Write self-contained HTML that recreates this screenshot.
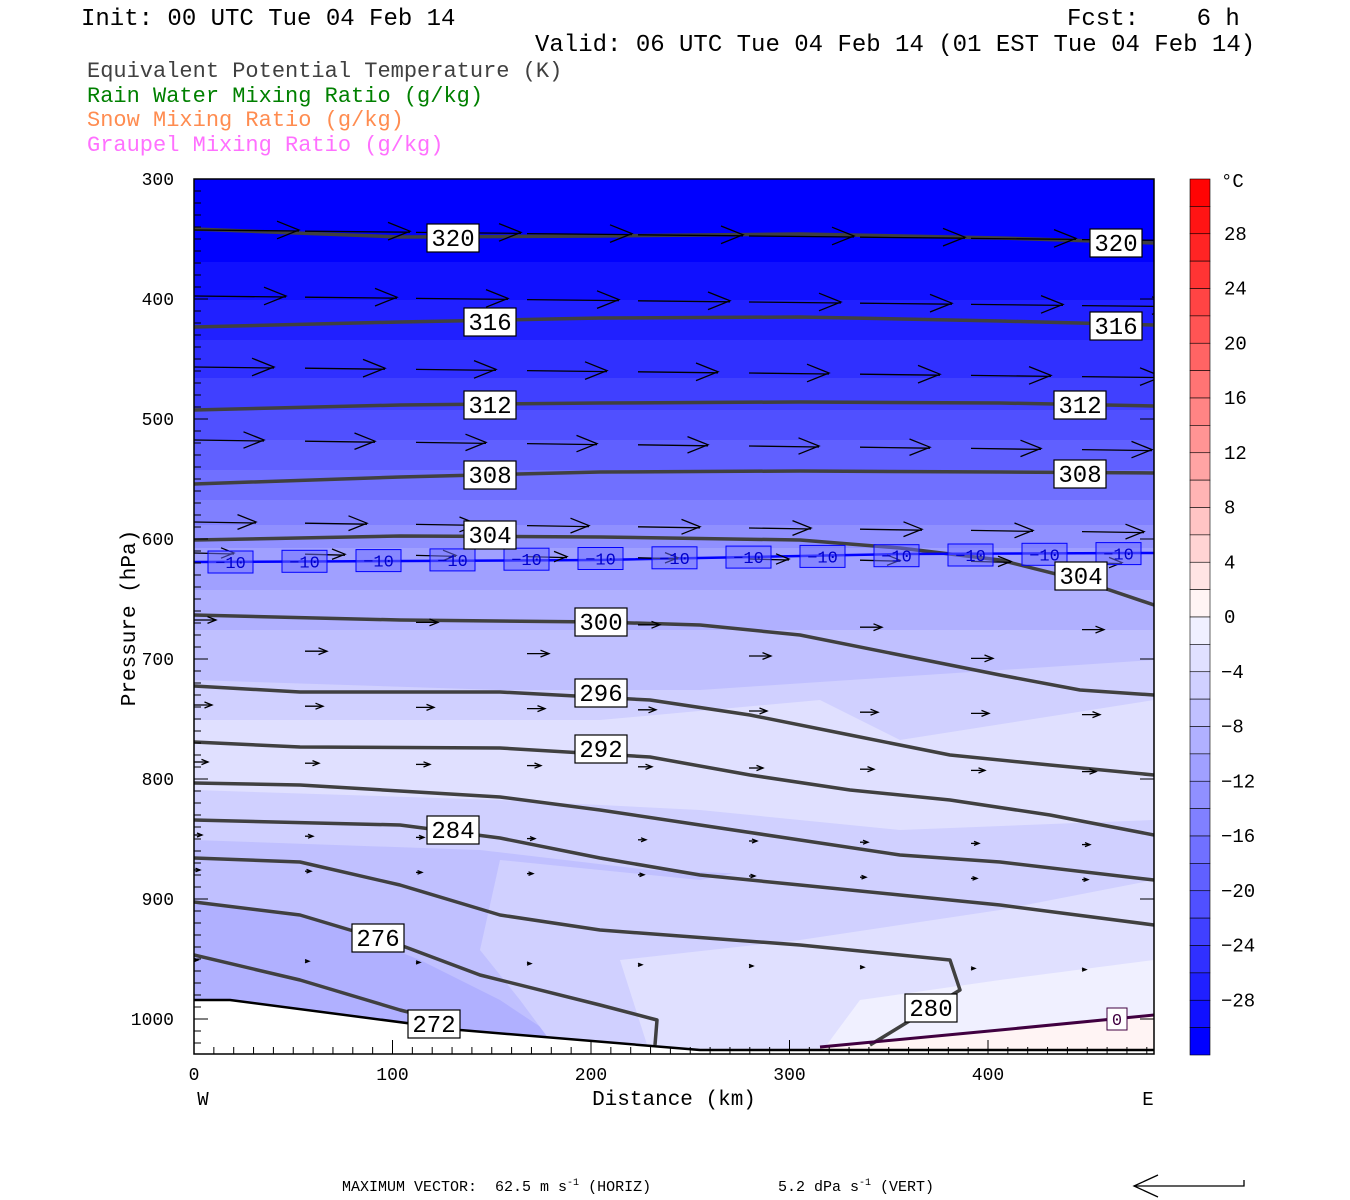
<!DOCTYPE html>
<html><head><meta charset="utf-8"><style>
html,body{margin:0;background:#fff;width:1350px;height:1200px;overflow:hidden}
svg{display:block;overflow:hidden}
text{font-family:"Liberation Mono",monospace;white-space:pre}
</style></head><body>
<svg id="s" width="1350" height="1200" xmlns="http://www.w3.org/2000/svg">
<defs><clipPath id="pc"><rect x="194" y="179" width="960" height="875"/></clipPath></defs>
<g id="fill" clip-path="url(#pc)"></g>
<g id="lines" clip-path="url(#pc)"></g>
<g id="wind" clip-path="url(#pc)"></g>
<g id="over"></g>
</svg>
<script>
const S=document.getElementById('s'),NS='http://www.w3.org/2000/svg';
function el(p,t,a,txt){const e=document.createElementNS(NS,t);for(const k in a)e.setAttribute(k,a[k]);if(txt!==undefined)e.textContent=txt;(typeof p==='string'?document.getElementById(p):p).appendChild(e);return e;}
function blue(T){const i=(T+32)/2; const v=Math.round(16*i); return `rgb(${v},${v},255)`;}
function red(T){const j=T/2;const v=Math.max(0,244-16*j);return `rgb(255,${v},${v})`;}
const F='fill';
el(F,'rect',{x:194,y:179,width:960,height:875,fill:blue(-32)});
const bands=[[-30,262],[-28,300],[-26,340],[-24,378],[-22,410],[-20,440],[-18,470],[-16,500],[-14,525],[-12,548],[-10,590],[-8,630]];
bands.forEach(b=>el(F,'rect',{x:194,y:b[1],width:960,height:900,fill:blue(b[0])}));
el(F,'path',{d:'M194,680 L500,690 L700,690 L850,680 L1154,660 L1154,1054 L194,1054Z',fill:blue(-6)});
el(F,'path',{d:'M194,720 L600,720 L820,700 L900,740 L1154,700 L1154,1054 L194,1054Z',fill:blue(-4)});
el(F,'path',{d:'M194,790 L500,800 L700,810 L900,830 L1154,820 L1154,1054 L194,1054Z',fill:blue(-6)});
el(F,'path',{d:'M194,840 L480,850 L650,870 L900,880 L1154,870 L1154,1054 L194,1054Z',fill:blue(-8)});
el(F,'path',{d:'M194,900 L320,920 L420,960 L500,1000 L560,1040 L194,1040Z',fill:blue(-10)});
el(F,'path',{d:'M500,860 L700,880 L900,840 L1154,820 L1154,1054 L560,1054 L520,1000 L480,950Z',fill:blue(-6)});
el(F,'path',{d:'M620,960 L800,940 L1000,910 L1154,880 L1154,1054 L650,1054Z',fill:blue(-4)});
el(F,'path',{d:'M860,1000 L1000,980 L1154,960 L1154,1054 L820,1054Z',fill:blue(-2)});
el(F,'path',{d:'M820,1047 L1000,1030 L1154,1015 L1154,1054 L820,1054Z',fill:red(0)});
el(F,'path',{d:'M194,1000 L230,1000 L460,1030 L700,1050 L1154,1050 L1154,1054 L194,1054Z',fill:'#fff'});
const L='lines';
function pl(pts,c,w){el(L,'polyline',{points:pts.map(p=>p.join(',')).join(' '),fill:'none',stroke:c,'stroke-width':w,'stroke-linejoin':'round'});}
const G='#404040';
const cs=[
[[194,229],[400,237],[600,236],[800,234],[1000,238],[1154,243]],
[[194,327],[400,322],[600,318],[800,317],[1000,321],[1154,325]],
[[194,410],[400,405],[600,403],[800,402],[1000,403],[1154,406]],
[[194,484],[400,477],[600,472],[800,471],[1000,472],[1154,473]],
[[194,540],[400,536],[600,537],[800,540],[900,548],[1000,560],[1080,580],[1154,605]],
[[194,615],[400,620],[600,622],[700,625],[800,635],[900,655],[1000,675],[1080,690],[1154,695]],
[[194,686],[300,692],[500,692],[650,700],[750,715],[850,735],[950,755],[1050,765],[1154,775]],
[[194,742],[300,747],[500,748],[650,757],[750,775],[850,790],[950,800],[1050,815],[1154,835]],
[[194,783],[300,785],[500,797],[600,810],[700,825],[800,840],[900,855],[1000,862],[1154,880]],
[[194,820],[400,825],[500,838],[600,858],[700,875],[800,885],[900,895],[1000,905],[1154,925]],
[[194,858],[300,862],[400,885],[500,915],[600,930],[800,945],[950,960],[960,990],[870,1045]],
[[194,902],[300,915],[400,945],[480,975],[600,1005],[657,1020],[655,1045]],
[[194,955],[300,980],[400,1010],[440,1020]]
];
cs.forEach(c=>pl(c,G,3.5));
pl([[194,1000],[230,1000],[460,1030],[700,1050],[1154,1050]],'#000',2.5);
pl([[820,1047],[1000,1030],[1154,1015]],'#400040',3);
pl([[194,562],[600,560],[900,554],[1154,553]],'#0000ff',2.5);
const O='over',W='wind';
const rows=[[230,105],[296,92],[367,80],[440,70],[522,62],[553,40],[620,22],[650,22],[705,18],[762,14],[835,8],[870,6],[960,4]];
rows.forEach((r,ri)=>{const[y,l]=r;for(let k=0;k<9;k++){let x=194+k*111; if(ri===6&&k%2==1)continue; if(ri===7&&k%2==0)continue;
 const yy=y+k*1.2; const x2=x+l;
 el(W,'line',{x1:x,y1:yy,x2:x2,y2:yy+(l>30?1:0),stroke:'#000','stroke-width':1.3});
 const h=Math.min(22,l*0.25+3);
 el(W,'polyline',{points:`${x2-h},${yy-h*0.4} ${x2},${yy} ${x2-h},${yy+h*0.4}`,fill:'none',stroke:'#000','stroke-width':1.3});}});
for(let i=0;i<13;i++){const x=208+i*74;const y=562-i*0.7;
 el(O,'rect',{x:x,y:y-11,width:45,height:22,fill:'rgba(110,110,255,0.5)',stroke:'#0000ff','stroke-width':1});
 el(O,'text',{x:x+22.5,y:y+6,'text-anchor':'middle','font-size':17,fill:'#0000cc'},'−10');}
function lab(x,y,t,w){w=w||52;el(O,'rect',{x:x-w/2,y:y-14,width:w,height:28,fill:'#fff',stroke:'#000','stroke-width':1.2});el(O,'text',{x:x,y:y+8,'text-anchor':'middle','font-size':24,fill:'#000'},t);}
[[453,238,'320'],[1116,243,'320'],[490,322,'316'],[1116,326,'316'],[490,405,'312'],[1080,405,'312'],[490,475,'308'],[1080,474,'308'],[490,535,'304'],[1081,576,'304'],[601,622,'300'],[601,693,'296'],[601,749,'292'],[453,830,'284'],[378,938,'276'],[931,1008,'280'],[434,1024,'272']].forEach(a=>lab(a[0],a[1],a[2]));
el(O,'rect',{x:1107,y:1008,width:20,height:22,fill:'#fff',stroke:'#400040'});
el(O,'text',{x:1117,y:1025,'text-anchor':'middle','font-size':17,fill:'#400040'},'0');
el(O,'rect',{x:194,y:179,width:960,height:875,fill:'none',stroke:'#000','stroke-width':1.5});
for(let p=300;p<=1020;p+=10){const y=179+(p-300)*1.2;const big=p%100==0;el(O,'line',{x1:194,y1:y,x2:194+(big?14:7),y2:y,stroke:'#000'});
 if(big){el(O,'line',{x1:1154,y1:y,x2:1140,y2:y,stroke:'#000'});el(O,'text',{x:174,y:y+6,'text-anchor':'end','font-size':18},''+p);}}
for(let d=0;d<=480;d+=10){const x=194+d*1.985;const big=d%100==0;el(O,'line',{x1:x,y1:1054,x2:x,y2:1054-(big?14:7),stroke:'#000'});
 if(big)el(O,'text',{x:x,y:1080,'text-anchor':'middle','font-size':18},''+d);}
el(O,'text',{x:203,y:1105,'text-anchor':'middle','font-size':19},'W');
el(O,'text',{x:1148,y:1105,'text-anchor':'middle','font-size':19},'E');
el(O,'text',{x:674,y:1105,'text-anchor':'middle','font-size':21},'Distance (km)');
el(O,'text',{x:135,y:618,'text-anchor':'middle','font-size':21,transform:'rotate(-90 135 618)'},'Pressure (hPa)');
for(let i=0;i<32;i++){const T=30-2*i;const y=179+i*27.375;el(O,'rect',{x:1190,y:y,width:20,height:27.375,fill:T>=0?red(T):blue(T),stroke:'#000','stroke-width':0.6});}
el(O,'text',{x:1221,y:187,'font-size':19},'°C');
for(let v=28;v>=-28;v-=4){const yy=179+(32-v)*13.6875;
 el(O,'text',{x:v<0?1221:1224,y:yy+6,'font-size':19},(v<0?'−':'')+Math.abs(v));}
el(O,'text',{x:81,y:25,'font-size':24},'Init: 00 UTC Tue 04 Feb 14');
el(O,'text',{x:1067,y:25,'font-size':24},'Fcst:    6 h');
el(O,'text',{x:535,y:51,'font-size':24},'Valid: 06 UTC Tue 04 Feb 14 (01 EST Tue 04 Feb 14)');
el(O,'text',{x:87,y:77,'font-size':22,fill:'#404040'},'Equivalent Potential Temperature (K)');
el(O,'text',{x:87,y:102,'font-size':22,fill:'#008000'},'Rain Water Mixing Ratio (g/kg)');
el(O,'text',{x:87,y:126,'font-size':22,fill:'#ff8c50'},'Snow Mixing Ratio (g/kg)');
el(O,'text',{x:87,y:151,'font-size':22,fill:'#ff70ff'},'Graupel Mixing Ratio (g/kg)');
const t=el(O,'text',{x:342,y:1191,'font-size':15,'font-family':'Liberation Serif'});
t.innerHTML='MAXIMUM VECTOR:  62.5 m s<tspan dy="-6" font-size="10">-1</tspan><tspan dy="6"> (HORIZ)</tspan>';
const t2=el(O,'text',{x:778,y:1191,'font-size':15,'font-family':'Liberation Serif'});
t2.innerHTML='5.2 dPa s<tspan dy="-6" font-size="10">-1</tspan><tspan dy="6"> (VERT)</tspan>';
el(O,'polyline',{points:'1244,1180 1244,1186 1134,1186',fill:'none',stroke:'#000','stroke-width':1.3});
el(O,'polyline',{points:'1158,1175 1134,1186 1158,1197',fill:'none',stroke:'#000','stroke-width':1.3});
</script>
</body></html>
